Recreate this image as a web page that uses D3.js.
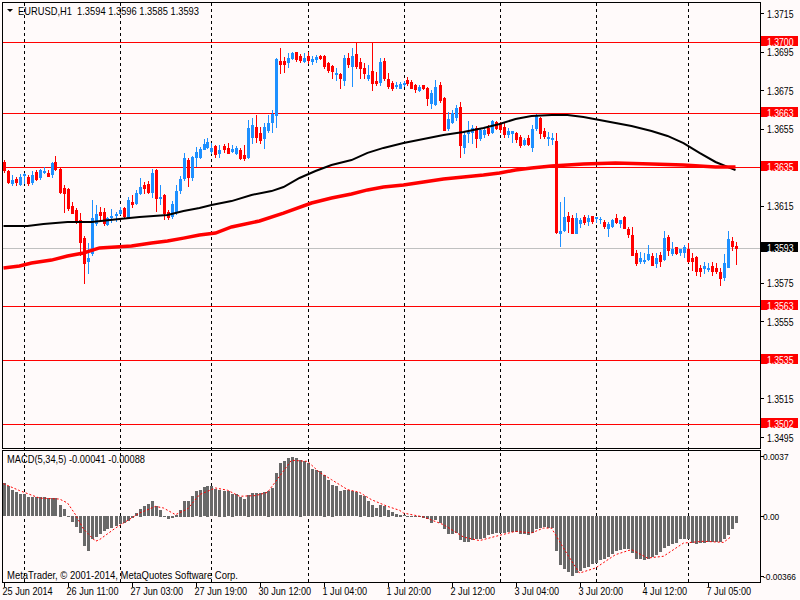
<!DOCTYPE html>
<html>
<head>
<meta charset="utf-8">
<script src="https://d3js.org/d3.v7.min.js"></script>
<style>
body { margin: 0; background: #fffafa; }
svg { display: block; font-family: "Liberation Sans", Arial, sans-serif; }
</style>
</head>
<body>
<svg width="800" height="600"></svg>
<script>
// EURUSD H1 bars, 25 Jun 19:00 .. 7 Jul 12:00
var opens = [1.36377,1.36330,1.36268,1.36289,1.36263,1.36309,1.36299,1.36273,1.36325,1.36299,1.36325,1.36320,1.36315,1.36377,1.36341,1.36242,1.36237,1.36149,1.36128,1.36076,
	1.35982,1.35863,1.35905,1.36060,1.36117,1.36117,1.36055,1.36091,1.36102,1.36112,1.36138,1.36091,1.36169,1.36164,1.36216,1.36258,1.36263,1.36221,1.36335,1.36190,
	1.36206,1.36117,1.36097,1.36117,1.36232,1.36294,1.36387,1.36299,1.36403,1.36403,1.36444,1.36455,1.36434,1.36460,1.36424,1.36460,1.36450,1.36434,1.36424,1.36439,
	1.36413,1.36403,1.36507,1.36558,1.36527,1.36501,1.36543,1.36584,1.36621,1.36901,1.36901,1.36896,1.36916,1.36948,1.36927,1.36901,1.36927,1.36901,1.36911,1.36927,
	1.36927,1.36891,1.36875,1.36833,1.36833,1.36802,1.36916,1.36875,1.36937,1.36896,1.36865,1.36813,1.36849,1.36797,1.36792,1.36901,1.36808,1.36787,1.36771,1.36761,
	1.36782,1.36802,1.36792,1.36776,1.36750,1.36776,1.36761,1.36683,1.36678,1.36776,1.36709,1.36553,1.36584,1.36610,1.36662,1.36455,1.36527,1.36532,1.36553,1.36501,
	1.36522,1.36553,1.36532,1.36584,1.36579,1.36558,1.36522,1.36527,1.36527,1.36507,1.36470,1.36501,1.36455,1.36553,1.36605,1.36538,1.36501,1.36496,1.36486,1.36008,
	1.36024,1.36097,1.36086,1.36008,1.36060,1.36091,1.36071,1.36097,1.36084,1.36079,1.36065,1.36034,1.36045,1.36086,1.36060,1.36091,1.36029,1.35998,1.35905,1.35863,
	1.35863,1.35874,1.35889,1.35853,1.35894,1.35874,1.35988,1.35905,1.35936,1.35910,1.35910,1.35925,1.35879,1.35884,1.35827,1.35827,1.35822,1.35837,1.35827,1.35806,
	1.35780,1.35832,1.35967,1.35940];
var highs = [1.36387,1.36335,1.36309,1.36299,1.36315,1.36320,1.36309,1.36330,1.36335,1.36341,1.36351,1.36335,1.36377,1.36408,1.36346,1.36258,1.36242,1.36169,1.36138,1.36112,
	1.35993,1.35957,1.36180,1.36154,1.36143,1.36138,1.36091,1.36133,1.36117,1.36143,1.36143,1.36195,1.36206,1.36232,1.36294,1.36273,1.36278,1.36341,1.36341,1.36258,
	1.36211,1.36128,1.36174,1.36258,1.36304,1.36424,1.36398,1.36408,1.36455,1.36455,1.36496,1.36501,1.36475,1.36465,1.36465,1.36470,1.36475,1.36465,1.36460,1.36450,
	1.36465,1.36595,1.36605,1.36621,1.36558,1.36579,1.36621,1.36647,1.36916,1.36968,1.36922,1.36942,1.36948,1.36948,1.36937,1.36942,1.36948,1.36927,1.36932,1.36932,
	1.36932,1.36896,1.36880,1.36865,1.36839,1.36932,1.36942,1.36968,1.36994,1.36916,1.36891,1.36880,1.36999,1.36844,1.36916,1.36916,1.36839,1.36797,1.36792,1.36792,
	1.36797,1.36818,1.36802,1.36782,1.36776,1.36776,1.36766,1.36750,1.36802,1.36792,1.36714,1.36636,1.36647,1.36673,1.36688,1.36532,1.36590,1.36569,1.36564,1.36553,
	1.36553,1.36569,1.36595,1.36590,1.36584,1.36584,1.36553,1.36538,1.36532,1.36517,1.36501,1.36517,1.36569,1.36626,1.36610,1.36553,1.36532,1.36527,1.36527,1.36169,
	1.36195,1.36117,1.36102,1.36112,1.36086,1.36102,1.36102,1.36097,1.36091,1.36091,1.36076,1.36065,1.36081,1.36107,1.36076,1.36097,1.36040,1.36040,1.35920,1.35910,
	1.35905,1.35946,1.35905,1.35905,1.35910,1.36019,1.35998,1.35962,1.35936,1.35925,1.35946,1.35957,1.35905,1.35889,1.35842,1.35858,1.35853,1.35858,1.35853,1.35827,
	1.35899,1.36019,1.35988,1.35960];
var lows = [1.36325,1.36268,1.36258,1.36258,1.36258,1.36268,1.36258,1.36263,1.36283,1.36289,1.36320,1.36304,1.36299,1.36335,1.36216,1.36117,1.36128,1.36112,1.36060,1.35894,
	1.35749,1.35801,1.35894,1.36050,1.36076,1.36050,1.36050,1.36065,1.36071,1.36107,1.36091,1.36086,1.36143,1.36159,1.36211,1.36216,1.36216,1.36195,1.36123,1.36159,
	1.36081,1.36081,1.36086,1.36107,1.36216,1.36283,1.36252,1.36283,1.36356,1.36398,1.36444,1.36450,1.36424,1.36403,1.36403,1.36429,1.36424,1.36429,1.36418,1.36392,
	1.36387,1.36398,1.36475,1.36481,1.36475,1.36450,1.36532,1.36532,1.36558,1.36839,1.36844,1.36870,1.36911,1.36901,1.36896,1.36896,1.36891,1.36885,1.36896,1.36911,
	1.36865,1.36844,1.36813,1.36802,1.36761,1.36776,1.36870,1.36771,1.36865,1.36813,1.36813,1.36802,1.36750,1.36776,1.36776,1.36802,1.36761,1.36750,1.36761,1.36761,
	1.36771,1.36776,1.36761,1.36740,1.36745,1.36756,1.36673,1.36657,1.36673,1.36688,1.36543,1.36543,1.36579,1.36595,1.36403,1.36424,1.36481,1.36475,1.36455,1.36491,
	1.36507,1.36517,1.36527,1.36548,1.36532,1.36507,1.36507,1.36481,1.36481,1.36455,1.36465,1.36465,1.36434,1.36543,1.36501,1.36501,1.36465,1.36470,1.36008,1.35941,
	1.36019,1.36014,1.36008,1.36008,1.36040,1.36055,1.36050,1.36060,1.36065,1.36060,1.36034,1.35993,1.36040,1.36060,1.36040,1.36034,1.35988,1.35894,1.35842,1.35853,
	1.35853,1.35868,1.35842,1.35832,1.35837,1.35868,1.35894,1.35894,1.35899,1.35894,1.35884,1.35858,1.35816,1.35790,1.35785,1.35801,1.35811,1.35790,1.35801,1.35739,
	1.35765,1.35832,1.35920,1.35850];
var closes = [1.36335,1.36273,1.36283,1.36273,1.36299,1.36315,1.36268,1.36309,1.36289,1.36335,1.36330,1.36304,1.36372,1.36341,1.36221,1.36216,1.36138,1.36112,1.36065,1.35962,
	1.35853,1.35879,1.36086,1.36107,1.36102,1.36060,1.36086,1.36097,1.36107,1.36128,1.36097,1.36180,1.36159,1.36216,1.36247,1.36242,1.36221,1.36320,1.36190,1.36195,
	1.36112,1.36091,1.36159,1.36226,1.36289,1.36398,1.36299,1.36403,1.36429,1.36444,1.36470,1.36481,1.36450,1.36418,1.36439,1.36444,1.36424,1.36444,1.36450,1.36398,
	1.36398,1.36553,1.36569,1.36507,1.36491,1.36558,1.36579,1.36626,1.36911,1.36885,1.36885,1.36916,1.36942,1.36911,1.36906,1.36916,1.36906,1.36911,1.36922,1.36916,
	1.36875,1.36854,1.36849,1.36839,1.36813,1.36916,1.36885,1.36927,1.36875,1.36865,1.36839,1.36828,1.36787,1.36787,1.36896,1.36813,1.36771,1.36761,1.36776,1.36782,
	1.36787,1.36787,1.36761,1.36756,1.36766,1.36761,1.36709,1.36735,1.36766,1.36699,1.36543,1.36600,1.36631,1.36657,1.36465,1.36517,1.36532,1.36553,1.36501,1.36543,
	1.36543,1.36527,1.36590,1.36553,1.36548,1.36522,1.36538,1.36538,1.36496,1.36465,1.36491,1.36470,1.36548,1.36616,1.36527,1.36512,1.36507,1.36501,1.36014,1.36019,
	1.36091,1.36071,1.36008,1.36086,1.36076,1.36065,1.36086,1.36071,1.36089,1.36083,1.36045,1.36055,1.36076,1.36065,1.36076,1.36034,1.36003,1.35894,1.35853,1.35879,
	1.35868,1.35899,1.35842,1.35879,1.35863,1.35982,1.35920,1.35925,1.35905,1.35925,1.35936,1.35863,1.35863,1.35811,1.35811,1.35837,1.35827,1.35811,1.35811,1.35775,
	1.35853,1.35977,1.35941,1.35930];

// moving averages as [bar, price]
var maBlack = [[0,1.36045],[6,1.36045],[10,1.36055],[16,1.36065],[22,1.36065],[29,1.36081],[34,1.36091],[41,1.36102],[45,1.36123],[49,1.36138],
	[52,1.36154],[57,1.36174],[62,1.36206],[67,1.36226],[70,1.36247],[74,1.36294],[78,1.36330],[82,1.36361],[87,1.36387],[91,1.36424],
	[95,1.36450],[100,1.36475],[105,1.36496],[110,1.36517],[115,1.36532],[120,1.36553],[124,1.36574],[128,1.36600],[132,1.36616],[137,1.36621],
	[141,1.36621],[145,1.36610],[149,1.36595],[153,1.36579],[157,1.36564],[162,1.36538],[166,1.36512],[170,1.36475],[174,1.36424],[178,1.36377],[183,1.36335]];
var maRed = [[0,1.35827],[4,1.35837],[7,1.35853],[12,1.35868],[16,1.35889],[20,1.35905],[24,1.35931],[28,1.35936],[32,1.35941],[37,1.35957],
	[41,1.35967],[45,1.35982],[49,1.35998],[53,1.36008],[57,1.36040],[64,1.36071],[70,1.36112],[77,1.36164],[82,1.36190],[87,1.36211],
	[91,1.36232],[95,1.36247],[100,1.36258],[105,1.36273],[110,1.36289],[115,1.36299],[120,1.36309],[124,1.36320],[128,1.36335],[132,1.36346],
	[137,1.36356],[145,1.36366],[153,1.36372],[162,1.36366],[170,1.36361],[178,1.36351],[183,1.36351]];

// MACD(5,34,5)
var macdHist = [0.00205,0.00184,0.00160,0.00150,0.00137,0.00137,0.00117,0.00117,0.00117,0.00117,0.00117,0.00110,0.00110,0.00110,0.00072,0.00045,0.00004,-0.00035,-0.00067,-0.00106,
	-0.00184,-0.00215,-0.00143,-0.00129,-0.00109,-0.00092,-0.00082,-0.00072,-0.00061,-0.00051,-0.00041,-0.00031,-0.00012,0.00020,0.00047,0.00061,0.00075,0.00092,0.00061,0.00041,
	0.00004,-0.00017,-0.00010,0.00010,0.00041,0.00096,0.00096,0.00127,0.00153,0.00164,0.00178,0.00188,0.00184,0.00168,0.00164,0.00158,0.00153,0.00139,0.00137,0.00118,
	0.00106,0.00133,0.00143,0.00143,0.00143,0.00147,0.00158,0.00174,0.00266,0.00327,0.00337,0.00358,0.00364,0.00358,0.00348,0.00337,0.00327,0.00290,0.00282,0.00276,
	0.00256,0.00221,0.00195,0.00184,0.00153,0.00160,0.00160,0.00153,0.00149,0.00133,0.00123,0.00096,0.00072,0.00051,0.00072,0.00061,0.00041,0.00025,0.00017,0.00010,
	0.00008,0.00004,0.00001,-0.00004,-0.00008,-0.00012,-0.00020,-0.00041,-0.00026,-0.00041,-0.00078,-0.00112,-0.00112,-0.00106,-0.00147,-0.00160,-0.00160,-0.00149,-0.00143,-0.00143,
	-0.00133,-0.00118,-0.00109,-0.00102,-0.00102,-0.00102,-0.00096,-0.00096,-0.00098,-0.00109,-0.00112,-0.00117,-0.00102,-0.00078,-0.00072,-0.00067,-0.00072,-0.00072,-0.00215,-0.00303,
	-0.00327,-0.00344,-0.00366,-0.00348,-0.00337,-0.00321,-0.00311,-0.00293,-0.00287,-0.00270,-0.00262,-0.00250,-0.00235,-0.00215,-0.00210,-0.00204,-0.00204,-0.00225,-0.00262,-0.00266,
	-0.00272,-0.00262,-0.00250,-0.00241,-0.00221,-0.00198,-0.00184,-0.00174,-0.00164,-0.00143,-0.00139,-0.00143,-0.00164,-0.00170,-0.00168,-0.00164,-0.00160,-0.00160,-0.00160,-0.00160,
	-0.00143,-0.00118,-0.00082,-0.00041];
var macdSignal = [[0,0.00200],[4,0.00158],[9,0.00112],[14,0.00106],[16,0.00082],[18,0.00010],[20,-0.00078],[23,-0.00153],[24,-0.00143],[28,-0.00072],
	[30,-0.00041],[34,0.00020],[38,0.00061],[40,0.00051],[43,0.00010],[46,0.00045],[49,0.00133],[53,0.00174],[56,0.00160],[59,0.00123],
	[63,0.00127],[66,0.00147],[69,0.00245],[72,0.00344],[76,0.00337],[79,0.00270],[82,0.00225],[86,0.00164],[89,0.00147],[92,0.00102],
	[96,0.00061],[99,0.00037],[100,0.00020],[105,-0.00004],[110,-0.00051],[115,-0.00127],[119,-0.00149],[123,-0.00123],[128,-0.00092],[132,-0.00102],
	[135,-0.00072],[137,-0.00072],[141,-0.00235],[144,-0.00348],[148,-0.00317],[153,-0.00235],[157,-0.00204],[161,-0.00256],[165,-0.00245],[170,-0.00164],
	[175,-0.00153],[180,-0.00160],[182,-0.00123]];

var levels = [1.3700, 1.3663, 1.3635, 1.3563, 1.3535, 1.3502];
var bidPrice = 1.3593;
var priceTicks = [1.3715, 1.3695, 1.3675, 1.3655, 1.3635, 1.3615, 1.3595, 1.3575, 1.3555, 1.3535, 1.3515, 1.3495];
var macdTicks = [0.0037, 0, -0.00366];
var macdTickLabels = ['0.0037', '0.00', '-0.00366'];
var timeLabels = ['25 Jun 2014', '26 Jun 11:00', '27 Jun 03:00', '27 Jun 19:00', '30 Jun 12:00', '1 Jul 04:00',
	'1 Jul 20:00', '2 Jul 12:00', '3 Jul 04:00', '3 Jul 20:00', '4 Jul 12:00', '7 Jul 05:00'];
var timeLabelStep = 16;
var dayStarts = [5, 29, 52, 76, 100, 124, 148, 171];
var headerText = 'EURUSD,H1  1.3594 1.3596 1.3585 1.3593';
var macdTitle = 'MACD(5,34,5) -0.00041 -0.00088';
var copyright = 'MetaTrader, \u00a9 2001-2014, MetaQuotes Software Corp.';

drawChart();

function drawChart() {
	var svg = d3.select('svg');
	var bull = '#1e90ff', bear = '#ff0000';
	var fs = 11;

	//horizontal squeeze so a sample string gets the width it has in the terminal
	function squeeze(sample, width) {
		var t = svg.append('text').attr('font-size', fs + 'px').style('white-space', 'pre').text(sample);
		var w = t.node().getComputedTextLength();
		t.remove();
		return width / w;
	}
	function fitText(sel, k) {
		sel.each(function() {
			var w = this.getComputedTextLength();
			d3.select(this)
				.attr('textLength', w * k)
				.attr('lengthAdjust', 'spacingAndGlyphs');
		});
	}
	var kPrice = squeeze('1.3715', 26.5);
	var kTime = squeeze('26 Jun 11:00', 52);
	//the macd scale sits against the right edge, so it gets a plain smaller size
	var fsMacd = fs * squeeze('-0.00366', 33);

	//scales
	var x = d3.scaleLinear().domain([0, opens.length - 1]).range([3.5, 735.5]);
	var y = d3.scaleLinear().domain([1.3715, 1.3495]).range([13, 437]);
	var ym = d3.scaleLinear().domain([-0.00366, 0.0037]).range([576, 456]);

	svg.append('rect').attr('width', 800).attr('height', 600).attr('fill', '#fffafa');

	//daily separators, both panels
	svg.append('g').selectAll('line')
		.data(dayStarts)
		.join('line')
			.attr('x1', d => Math.round(x(d)) + 0.5)
			.attr('x2', d => Math.round(x(d)) + 0.5)
			.attr('y1', 3).attr('y2', 582)
			.attr('stroke', '#000')
			.attr('stroke-dasharray', '3,3');

	//support / resistance levels
	svg.append('g').selectAll('line')
		.data(levels)
		.join('line')
			.attr('x1', 3).attr('x2', 760)
			.attr('y1', d => Math.round(y(d)) + 0.5)
			.attr('y2', d => Math.round(y(d)) + 0.5)
			.attr('stroke', '#ff0000');

	//bid line
	svg.append('line')
		.attr('x1', 3).attr('x2', 760)
		.attr('y1', Math.round(y(bidPrice)) + 0.5)
		.attr('y2', Math.round(y(bidPrice)) + 0.5)
		.attr('stroke', '#c0c0c0');

	//candles
	var bars = d3.range(opens.length);
	var g_c = svg.append('g');
	g_c.selectAll('line')
		.data(bars)
		.join('line')
			.attr('x1', i => Math.round(x(i)) + 0.5)
			.attr('x2', i => Math.round(x(i)) + 0.5)
			.attr('y1', i => Math.round(y(highs[i])))
			.attr('y2', i => Math.round(y(lows[i])) + 1)
			.attr('stroke', i => closes[i] >= opens[i] ? bull : bear);
	g_c.selectAll('rect')
		.data(bars)
		.join('rect')
			.attr('x', i => Math.round(x(i)) - 1)
			.attr('width', 3)
			.attr('y', i => Math.round(y(Math.max(opens[i], closes[i]))))
			.attr('height', i => Math.max(1, Math.round(y(Math.min(opens[i], closes[i]))) - Math.round(y(Math.max(opens[i], closes[i]))) + 1))
			.attr('fill', i => closes[i] >= opens[i] ? bull : bear);

	//moving averages
	var line = d3.line().x(d => x(d[0])).y(d => y(d[1]));
	svg.append('path').attr('d', line(maBlack))
		.attr('fill', 'none').attr('stroke', '#000').attr('stroke-width', 2);
	svg.append('path').attr('d', line(maRed))
		.attr('fill', 'none').attr('stroke', '#ff0000').attr('stroke-width', 3.5);

	//macd histogram + signal
	svg.append('g').selectAll('rect')
		.data(bars)
		.join('rect')
			.attr('x', i => Math.round(x(i)) - 1)
			.attr('width', 3)
			.attr('y', i => Math.round(Math.min(ym(0), ym(macdHist[i]))))
			.attr('height', i => Math.max(1, Math.round(Math.abs(ym(macdHist[i]) - ym(0)))))
			.attr('fill', '#696969');
	var sline = d3.line().x(d => x(d[0])).y(d => ym(d[1]));
	svg.append('path').attr('d', sline(macdSignal))
		.attr('fill', 'none').attr('stroke', '#ff0000')
		.attr('stroke-width', 1).attr('stroke-dasharray', '2,2');

	//frames
	var frame = svg.append('g').attr('stroke', '#000').attr('fill', 'none');
	frame.append('rect').attr('x', 2.5).attr('y', 2.5).attr('width', 758).attr('height', 446);
	frame.append('rect').attr('x', 2.5).attr('y', 450.5).attr('width', 758).attr('height', 132);

	//price axis, labels hidden under a tag are left out
	var tagPrices = levels.concat([bidPrice]);
	var shownTicks = priceTicks.filter(p => tagPrices.every(t => Math.abs(y(p) - y(t)) > 9));
	var g_y = svg.append('g');
	g_y.selectAll('line')
		.data(priceTicks)
		.join('line')
			.attr('x1', 761).attr('x2', 764)
			.attr('y1', d => Math.round(y(d)) + 0.5)
			.attr('y2', d => Math.round(y(d)) + 0.5)
			.attr('stroke', '#000');
	g_y.selectAll('text')
		.data(shownTicks)
		.join('text')
			.attr('x', 767)
			.attr('y', d => y(d) + 4.5)
			.attr('font-size', fs + 'px')
			.attr('fill', '#000')
			.text(d => d.toFixed(4))
			.call(fitText, kPrice);

	//level tags + bid tag
	var tags = levels.map(d => ({v: d, c: '#ff0000'})).concat([{v: bidPrice, c: '#000'}]);
	var g_t = svg.append('g').selectAll('g')
		.data(tags)
		.join('g')
			.attr('transform', d => 'translate(0,' + Math.round(y(d.v)) + ')');
	g_t.append('rect')
		.attr('x', 761).attr('y', -6).attr('width', 37).attr('height', 10)
		.attr('fill', d => d.c);
	g_t.append('text')
		.attr('x', 767).attr('y', 3.5)
		.attr('font-size', fs + 'px')
		.attr('fill', '#fff')
		.text(d => d.v.toFixed(4))
		.call(fitText, kPrice);

	//macd axis
	var g_m = svg.append('g');
	g_m.selectAll('line')
		.data(macdTicks)
		.join('line')
			.attr('x1', 761).attr('x2', 764)
			.attr('y1', d => Math.round(ym(d)) + 0.5)
			.attr('y2', d => Math.round(ym(d)) + 0.5)
			.attr('stroke', '#000');
	g_m.selectAll('text')
		.data(macdTicks)
		.join('text')
			.attr('x', 763)
			.attr('y', d => ym(d) + 3.5)
			.attr('font-size', fsMacd + 'px')
			.attr('fill', '#000')
			.text((d, i) => macdTickLabels[i]);

	//time axis
	var g_x = svg.append('g');
	g_x.selectAll('line')
		.data(timeLabels)
		.join('line')
			.attr('x1', (d, i) => Math.round(x(i * timeLabelStep)) + 0.5)
			.attr('x2', (d, i) => Math.round(x(i * timeLabelStep)) + 0.5)
			.attr('y1', 583).attr('y2', 587)
			.attr('stroke', '#000');
	g_x.selectAll('text')
		.data(timeLabels)
		.join('text')
			.attr('x', (d, i) => x(i * timeLabelStep) - 1)
			.attr('y', 595)
			.attr('font-size', fs + 'px')
			.attr('fill', '#000')
			.text(d => d)
			.call(fitText, kTime);

	//captions
	svg.append('path').attr('d', 'M7,9L13,9L10,12Z').attr('fill', '#000');
	svg.append('text').attr('x', 18).attr('y', 14.5)
		.attr('font-size', fs + 'px')
		.style('white-space', 'pre')
		.text(headerText)
		.call(fitText, squeeze(headerText, 181));
	svg.append('text').attr('x', 7).attr('y', 463)
		.attr('font-size', fs + 'px')
		.text(macdTitle)
		.call(fitText, squeeze(macdTitle, 138));
	svg.append('text').attr('x', 7).attr('y', 579)
		.attr('font-size', fs + 'px')
		.text(copyright)
		.call(fitText, squeeze(copyright, 231));
}
</script>
</body>
</html>
